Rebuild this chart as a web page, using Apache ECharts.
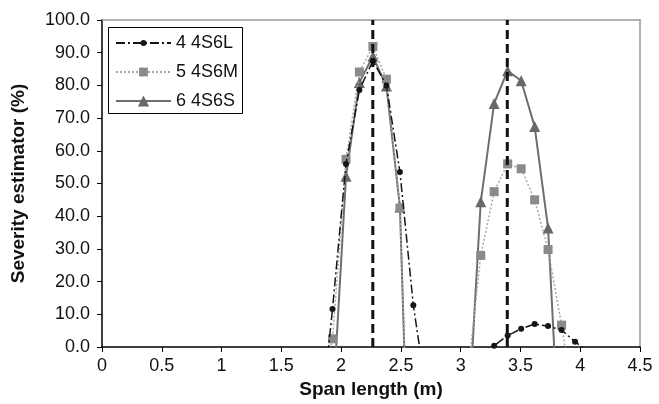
<!doctype html>
<html>
    <head>
        <meta charset="utf-8">
        <title>Severity estimator</title>
        <style>
            html, body { margin: 0; padding: 0; background: #fff; }
            #main { width: 659px; height: 404px; }
        </style>
    </head>
    <body>
        <div id="main"></div>
        <script src="https://cdn.jsdelivr.net/npm/echarts@6/dist/echarts.min.js"></script>
        <script>
            // sample positions along the span (m)
            var xPos = [1.815, 1.928, 2.041, 2.153, 2.266, 2.379, 2.492, 2.604, 2.717,
                        3.055, 3.168, 3.280, 3.393, 3.506, 3.619, 3.731, 3.844, 3.957, 4.070];

            // severity estimator (%) per case; values below 0 are clipped by the axis
            var s6L = [-28, 11.6, 56, 78.6, 87.5, 80, 53.5, 12.8, -15,
                       null, -1.2, 0.4, 3.5, 5.6, 7.0, 6.4, 5.2, 1.6, -1.5];
            var s6M = [-15, 2.5, 57.4, 84.1, 91.9, 81.9, 42.5, -90, null,
                       -10, 28, 47.5, 56, 54.5, 45, 29.8, 6.7, -20, null];
            var s6S = [null, -20, 52.2, 80.9, 88.9, 79.8, 42.8, -90, null,
                       -28, 44.4, 74.5, 84.5, 81.4, 67.4, 36.4, -44, null, null];

            var seriesNames = ['4 4S6L', '5 4S6M', '6 4S6S'];

            // actual damage locations (dashed verticals)
            var damageX = [2.265, 3.39];

            var xTicks = [0, 0.5, 1, 1.5, 2, 2.5, 3, 3.5, 4, 4.5];

            function pairs(vals) {
                return xPos.map(function (x, i) {
                    return [x, vals[i]];
                });
            }

            var font = 'Liberation Sans, Arial, sans-serif';
            var chart = echarts.init(document.getElementById('main'));

            var series = [{
                name: seriesNames[0],
                type: 'line',
                data: pairs(s6L),
                symbol: 'circle',
                symbolSize: 6,
                itemStyle: { color: '#151515' },
                lineStyle: { color: '#151515', width: 1.5, type: [9, 3, 2, 3] },
                z: 4
            }, {
                name: seriesNames[1],
                type: 'line',
                data: pairs(s6M),
                symbol: 'rect',
                symbolSize: 9,
                itemStyle: { color: '#8a8a8a' },
                lineStyle: { color: '#a6a6a6', width: 1.5, type: [2, 2] },
                z: 3
            }, {
                name: seriesNames[2],
                type: 'line',
                data: pairs(s6S),
                symbol: 'triangle',
                symbolSize: 11,
                itemStyle: { color: '#686868' },
                lineStyle: { color: '#6e6e6e', width: 2 },
                z: 2
            }];

            damageX.forEach(function (x) {
                series.push({
                    type: 'line',
                    data: [[x, 0], [x, 100]],
                    symbol: 'none',
                    silent: true,
                    lineStyle: { color: '#111', width: 3, type: [9, 5] },
                    z: 5
                });
            });

            // one legend per entry so each icon gets its own marker size
            var legendTops = [34, 63, 92];
            var legendIconH = [7.5, 11, 14];
            var legends = seriesNames.map(function (name, i) {
                return {
                    data: [name],
                    left: 115,
                    top: legendTops[i],
                    padding: 0,
                    itemWidth: 55,
                    itemHeight: legendIconH[i],
                    z: 6,
                    textStyle: { fontSize: 18, color: '#111', fontFamily: font, lineHeight: 18 }
                };
            });

            chart.setOption({
                animation: false,
                textStyle: { fontFamily: font },
                grid: { left: 102, right: 19, top: 20, bottom: 57 },
                graphic: [{
                    type: 'rect',
                    left: 108,
                    top: 27,
                    z: 5,
                    shape: { width: 134, height: 86 },
                    style: { fill: '#fff', stroke: '#000', lineWidth: 1 }
                }],
                legend: legends,
                xAxis: [{
                    type: 'value',
                    min: 0,
                    max: 4.5,
                    interval: 0.5,
                    name: 'Span length (m)',
                    nameLocation: 'middle',
                    nameGap: 29,
                    nameTextStyle: { fontSize: 19, fontWeight: 'bold', color: '#111', fontFamily: font },
                    axisLine: { onZero: false, lineStyle: { color: '#000', width: 1.5 } },
                    axisTick: { inside: false, length: 5, lineStyle: { color: '#000' } },
                    axisLabel: {
                        fontSize: 18, color: '#111', margin: 10,
                        formatter: function (v) { return xTicks.indexOf(v) >= 0 ? String(v) : ''; }
                    },
                    splitLine: { show: false }
                }, {
                    type: 'value',
                    position: 'top',
                    min: 0,
                    max: 4.5,
                    axisLine: { show: true, onZero: false, lineStyle: { color: '#999', width: 1.5 } },
                    axisTick: { show: false },
                    axisLabel: { show: false },
                    splitLine: { show: false }
                }],
                yAxis: [{
                    type: 'value',
                    min: 0,
                    max: 100,
                    interval: 10,
                    name: 'Severity estimator (%)',
                    nameLocation: 'middle',
                    nameGap: 74,
                    nameTextStyle: { fontSize: 19, fontWeight: 'bold', color: '#111', fontFamily: font },
                    axisLine: { show: true, onZero: false, lineStyle: { color: '#000', width: 1.5 } },
                    axisTick: { show: true, inside: false, length: 5, lineStyle: { color: '#000' } },
                    axisLabel: {
                        fontSize: 18, color: '#111', margin: 12,
                        formatter: function (v) { return v.toFixed(1); }
                    },
                    splitLine: { show: false }
                }, {
                    type: 'value',
                    position: 'right',
                    min: 0,
                    max: 100,
                    axisLine: { show: true, onZero: false, lineStyle: { color: '#999', width: 1.5 } },
                    axisTick: { show: false },
                    axisLabel: { show: false },
                    splitLine: { show: false }
                }],
                series: series
            });

            window.addEventListener('resize', chart.resize);
        </script>
    </body>
</html>
